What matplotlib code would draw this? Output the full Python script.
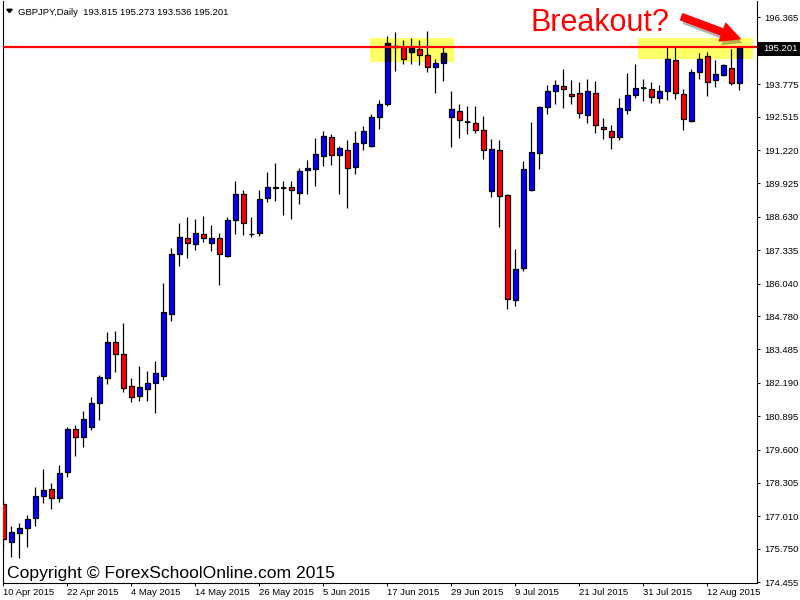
import matplotlib
matplotlib.use('Agg')
import matplotlib.pyplot as plt
from matplotlib.patches import Rectangle, Polygon
import matplotlib.patheffects as pe

plt.rcParams['font.family'] = ['Liberation Sans', 'DejaVu Sans']

# ---------------- data (GBPJPY daily, 10 Apr 2015 .. 18 Aug 2015) ----------------
opens = [177.49, 176.01, 176.36, 176.56, 176.95, 177.80, 178.07, 177.72, 178.73, 180.40,
         180.09, 180.48, 181.41, 182.38, 183.77, 183.31, 182.07, 181.68, 181.95, 182.18,
         182.46, 184.86, 187.19, 187.81, 187.58, 187.97, 187.62, 187.81, 187.11, 188.51,
         189.52, 187.95, 188.00, 189.36, 189.75, 189.74, 189.79, 189.56, 190.45, 190.49,
         190.99, 191.73, 191.03, 191.22, 190.56, 191.50, 191.38, 192.50, 193.01, 195.22,
         195.22, 195.03, 195.14, 194.91, 194.44, 194.60, 192.50, 192.74, 192.31, 192.27,
         192.00, 189.63, 191.22, 189.48, 185.40, 186.65, 189.67, 191.11, 192.89, 193.51,
         193.71, 193.40, 193.44, 192.58, 193.44, 192.12, 191.96, 191.73, 192.78, 193.36,
         193.63, 193.59, 193.24, 193.51, 194.72, 193.40, 192.35, 194.25, 194.87, 193.94,
         194.13, 194.41, 193.815]
highs = [177.64, 176.64, 176.75, 177.06, 178.15, 178.85, 178.30, 179.00, 180.48, 180.55,
         181.10, 181.64, 182.49, 184.16, 184.20, 184.51, 182.38, 182.84, 182.65, 183.04,
         186.06, 187.42, 188.39, 188.62, 188.55, 188.66, 188.31, 188.00, 188.62, 190.02,
         189.67, 188.62, 189.67, 190.37, 190.72, 190.02, 190.02, 190.53, 190.84, 191.69,
         191.96, 191.85, 191.38, 191.61, 191.96, 192.16, 192.62, 193.16, 195.65, 195.80,
         195.49, 195.57, 195.49, 195.84, 194.76, 195.22, 193.51, 193.01, 192.93, 192.93,
         192.54, 191.65, 191.61, 189.52, 187.38, 190.80, 192.31, 192.93, 193.75, 193.94,
         194.37, 193.94, 193.86, 193.98, 193.90, 192.47, 192.19, 193.24, 194.21, 194.56,
         193.98, 193.86, 193.75, 195.22, 195.22, 193.59, 194.37, 194.99, 195.03, 194.72,
         194.56, 195.14, 195.273]
lows = [175.78, 175.43, 175.39, 175.82, 176.64, 177.53, 177.30, 177.57, 178.54, 179.35,
        179.70, 180.36, 180.75, 182.15, 182.61, 181.83, 181.45, 181.49, 181.49, 181.02,
        182.30, 184.59, 186.72, 187.03, 187.34, 187.65, 187.31, 185.99, 187.07, 187.97,
        187.93, 187.85, 187.89, 189.21, 189.25, 188.70, 188.55, 189.13, 189.52, 189.83,
        190.60, 190.64, 189.52, 188.97, 190.29, 191.22, 191.34, 192.04, 192.93, 194.29,
        194.56, 194.56, 194.52, 194.25, 193.44, 193.90, 191.34, 191.69, 191.85, 191.88,
        190.88, 189.40, 188.24, 185.06, 185.17, 186.53, 189.63, 190.49, 192.62, 193.01,
        192.85, 193.01, 192.47, 192.27, 191.88, 191.65, 191.26, 191.61, 192.62, 193.24,
        193.13, 193.05, 193.05, 193.16, 193.20, 192.00, 192.31, 193.98, 193.32, 193.67,
        194.10, 193.75, 193.536]
closes = [176.13, 176.40, 176.56, 176.91, 177.80, 178.03, 177.72, 178.69, 180.40, 180.09,
          180.79, 181.41, 182.42, 183.77, 183.31, 181.99, 181.64, 182.03, 182.18, 182.57,
          184.94, 187.19, 187.85, 187.62, 188.00, 187.81, 187.81, 187.19, 188.51, 189.52,
          188.39, 187.98, 189.32, 189.79, 189.77, 189.74, 189.67, 190.41, 190.53, 191.07,
          191.77, 191.03, 191.30, 190.53, 191.50, 191.96, 192.50, 193.01, 195.38, 195.26,
          194.76, 195.18, 194.91, 194.44, 194.60, 194.99, 192.82, 192.39, 192.31, 192.00,
          191.22, 191.26, 189.44, 185.44, 186.61, 190.49, 191.15, 192.89, 193.51, 193.75,
          193.59, 193.32, 192.66, 193.51, 192.19, 192.04, 191.73, 192.85, 193.36, 193.63,
          193.63, 193.28, 193.51, 194.76, 193.44, 192.43, 194.25, 194.76, 193.86, 194.17,
          194.52, 193.82, 195.201]

xtick_labels = ['10 Apr 2015', '22 Apr 2015', '4 May 2015', '14 May 2015', '26 May 2015',
                '5 Jun 2015', '17 Jun 2015', '29 Jun 2015', '9 Jul 2015', '21 Jul 2015',
                '31 Jul 2015', '12 Aug 2015']
xtick_step = 8
ytick_values = [196.365, 195.070, 193.775, 192.515, 191.220, 189.925, 188.630, 187.335,
                186.040, 184.780, 183.485, 182.190, 180.895, 179.600, 178.305, 177.010,
                175.750, 174.455]
hidden_tick = 195.070   # label covered by the current-price marker
current_price = 195.201
title_text = 'GBPJPY,Daily  193.815 195.273 193.536 195.201'
# highlight zones: (first bar, last bar, low price, high price)
zones = [(45.84, 56.34, 194.638, 195.570), (79.34, 93.71, 194.755, 195.570)]
arrow_tail = (84.8, 196.39)
arrow_tip = (92.1, 195.54)
breakout_pos = (65.96, 195.86)

# ---------------- figure ----------------
W, H = 800, 600
fig = plt.figure(figsize=(8, 6), dpi=100)
fig.patch.set_facecolor('white')
L_px, R_px, T_px, B_px = 2.5, 757, 1, 583
ax = fig.add_axes([L_px / W, 1 - B_px / H, (R_px - L_px) / W, (B_px - T_px) / H])
ax.set_xlim(-0.1, 94.21)
ax.set_ylim(174.421, 197.005)

n = len(opens)
xs = list(range(n))
bottoms = [min(o, c) for o, c in zip(opens, closes)]
heights = [abs(c - o) for o, c in zip(opens, closes)]
colors = ['#0000ff' if c >= o else '#ff0000' for o, c in zip(opens, closes)]

# yellow zones (behind candles)
zone_patches = []
for x0, x1, y0, y1 in zones:
    r = Rectangle((x0, y0), x1 - x0, y1 - y0, facecolor='#ffff66', edgecolor='none', zorder=1)
    ax.add_patch(r)
    zone_patches.append(r)

ax.vlines(xs, lows, highs, colors='black', linewidth=0.9, zorder=2)
ax.bar(xs, heights, bottom=bottoms, width=0.55, color=colors, edgecolor='black',
       linewidth=0.9, zorder=3)
dx = [x for x, h in zip(xs, heights) if h < 0.02]
dy = [b for b, h in zip(bottoms, heights) if h < 0.02]
ax.hlines(dy, [x - 0.3 for x in dx], [x + 0.3 for x in dx], colors='black', linewidth=1.2, zorder=3)

# blue bodies appear dark navy under the yellow highlight
for zp in zone_patches:
    for x, b, h, col in zip(xs, bottoms, heights, colors):
        if col == '#0000ff' and h >= 0.02:
            rr = Rectangle((x - 0.275, b), 0.55, h, facecolor='#0a0a55', edgecolor='black',
                           linewidth=0.9, zorder=4)
            ax.add_patch(rr)
            rr.set_clip_path(zp)

ax.axhline(current_price, color='#ff0000', linewidth=1.6, zorder=5)

# axes styling
for s in ['left', 'bottom', 'right']:
    ax.spines[s].set_color('black')
    ax.spines[s].set_linewidth(0.8)
ax.spines['top'].set_visible(False)

ax.yaxis.tick_right()
ax.set_yticks(ytick_values)
ax.set_yticklabels(['' if v == hidden_tick else '%.3f' % v for v in ytick_values])
ax.tick_params(axis='y', direction='out', length=2.5, width=0.7, pad=2.5, labelsize=6.8,
               colors='black')
ax.set_xticks([i * xtick_step for i in range(len(xtick_labels))])
ax.set_xticklabels(xtick_labels)
ax.tick_params(axis='x', direction='out', length=2.5, width=0.7, pad=1.2, labelsize=6.8,
               colors='black')
for lab in ax.get_xticklabels():
    lab.set_ha('left')

# annotations
ax.text(breakout_pos[0], breakout_pos[1], 'Breakout?', color='#ff0000', fontsize=22,
        ha='left', va='baseline', zorder=6)
ax.annotate('', xy=arrow_tip, xytext=arrow_tail, zorder=6,
            arrowprops=dict(arrowstyle='simple,head_length=0.75,head_width=0.75,tail_width=0.26',
                            fc='#ff0000', ec='#ff0000', mutation_scale=18, shrinkA=0, shrinkB=0,
                            path_effects=[pe.withSimplePatchShadow(offset=(1.5, -3),
                                                                   shadow_rgbFace='black',
                                                                   alpha=0.3)]))

# title and marker
fig.patches.append(Polygon([[6.7 / W, 1 - 9.3 / H], [12.3 / W, 1 - 9.3 / H], [9.5 / W, 1 - 12.6 / H]],
                           closed=True, facecolor='black', edgecolor='black',
                           transform=fig.transFigure, figure=fig))
fig.text(18 / W, 1 - 15 / H, title_text, fontsize=6.8, color='black', ha='left', va='baseline')

# current price label on axis
fig.patches.append(Rectangle((758 / W, 1 - 55.5 / H), 42 / W, 13.5 / H, facecolor='black',
                             edgecolor='none', transform=fig.transFigure, figure=fig, zorder=5))
fig.text(763 / W, 1 - 48.7 / H, '%.3f' % current_price, fontsize=6.8, color='white',
         ha='left', va='center', zorder=6)

fig.text(7 / W, 1 - 577.7 / H, 'Copyright \u00a9 ForexSchoolOnline.com 2015', fontsize=12.6,
         color='black', ha='left', va='baseline', zorder=6)

fig.savefig('out.png', dpi=100)
